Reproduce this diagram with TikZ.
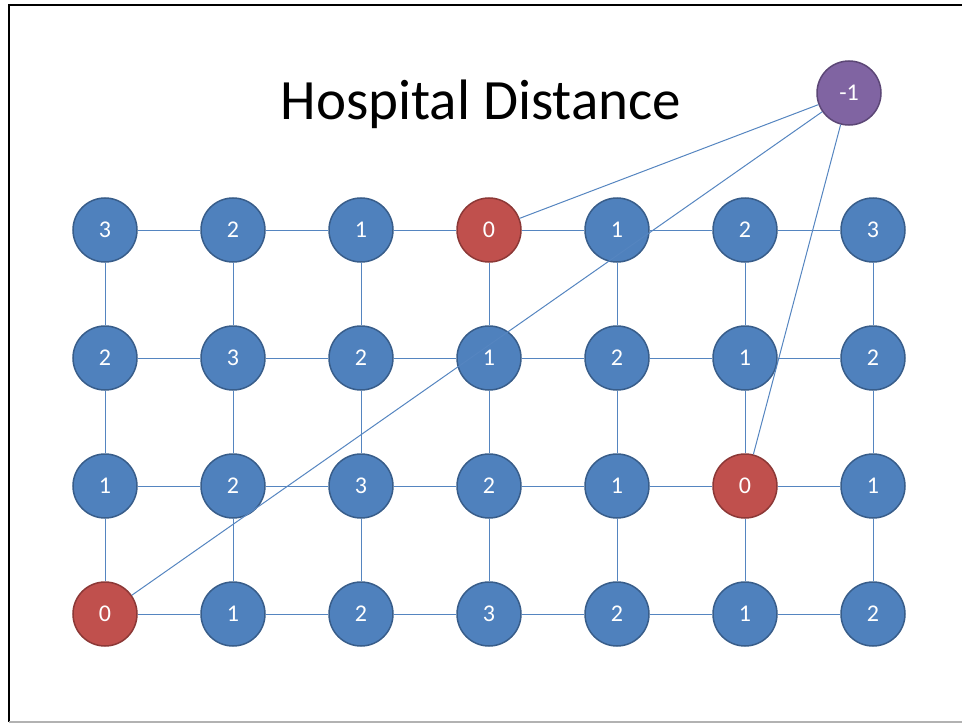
\documentclass[tikz,border=0pt]{standalone}
\usepackage{fontspec}
\setmainfont{Carlito}
\definecolor{distblue}{HTML}{4F81BD}
\definecolor{distline}{HTML}{385D8A}
\definecolor{hospred}{HTML}{C0504D}
\definecolor{hospline}{HTML}{8C3836}
\definecolor{srcpurple}{HTML}{8064A2}
\definecolor{srcline}{HTML}{5C4776}
\definecolor{linkblue}{HTML}{5585C0}

\begin{document}
\begin{tikzpicture}[x=1pt,y=-1pt,
 dist/.style={circle,draw=distline,fill=distblue,line width=1.5pt,minimum size=64pt,inner sep=0pt,text=white,font=\fontsize{24}{24}\selectfont},
 hosp/.style={dist,draw=hospline,fill=hospred},
 src/.style={dist,draw=srcline,fill=srcpurple},
 link/.style={draw=linkblue,line width=1pt}]
 \useasboundingbox (0,0) rectangle (962,725);
 % slide frame
 \draw[line width=2pt] (962,5.5)--(9,5.5)--(9,722);
 \draw[black!30,line width=1.5pt] (9,722)--(962,722);
 \node[anchor=base,font=\fontsize{57}{57}\selectfont] (title) at (481,120) {Hospital Distance};
 % grid of distances
 \foreach \row [count=\r] in {{3,2,1,0,1,2,3},{2,3,2,1,2,1,2},{1,2,3,2,1,0,1},{0,1,2,3,2,1,2}}
  \foreach \v [count=\c] in \row {
   \ifnum\v=0 \def\sty{hosp}\else\def\sty{dist}\fi
   \node[\sty] (n-\r-\c) at ({105+128*(\c-1)},{230+128*(\r-1)}) {\v};
  }
 \foreach \r in {1,...,4}
  \foreach \c in {1,...,6} {
   \pgfmathtruncatemacro\cnext{\c+1}
   \draw[link] (n-\r-\c)--(n-\r-\cnext);
  }
 \foreach \r in {1,2,3}
  \foreach \c in {1,...,7} {
   \pgfmathtruncatemacro\rnext{\r+1}
   \draw[link] (n-\r-\c)--(n-\rnext-\c);
  }
 % super source
 \node[src] (s) at (849,93) {-1};
 \draw[link] (s)--(n-1-4);
 \draw[link] (s)--(n-4-1);
 \draw[link] (s)--(n-3-6);
\end{tikzpicture}
\end{document}
